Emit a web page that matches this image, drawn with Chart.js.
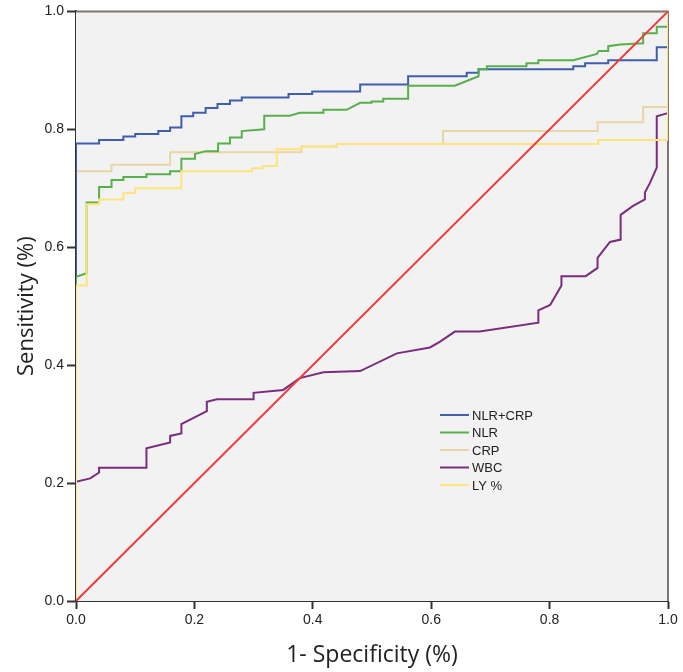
<!DOCTYPE html>
<html>
<head>
<meta charset="utf-8">
<script src="https://cdn.jsdelivr.net/npm/chart.js@4.4.0/dist/chart.umd.min.js"></script>
<style>
  body { margin: 0; background: #fff; }
  #wrap { width: 683px; height: 672px; }
</style>
</head>
<body>
<div id="wrap"><canvas id="roc"></canvas></div>
<script>
// ROC curves (1 - specificity, sensitivity)
const nlrCrpX = [0, 0, .039, .039, .080, .080, .100, .100, .139, .139, .159, .159, .178, .178, .198, .198, .219, .219, .239, .239, .260, .260, .280, .280, .359, .359, .399, .399, .480, .480, .561, .561, .660, .660, .680, .680, .840, .840, .860, .860, .899, .899, .981, .981, 1, 1]
const nlrCrpY = [0, .776, .776, .782, .782, .788, .788, .792, .792, .797, .797, .803, .803, .822, .822, .828, .828, .836, .836, .843, .843, .849, .849, .854, .854, .860, .860, .864, .864, .876, .876, .890, .890, .896, .896, .902, .902, .907, .907, .912, .912, .917, .917, .939, .939, 1]

const nlrX = [0, 0, .018, .018, .039, .039, .060, .060, .080, .080, .119, .119, .159, .159, .178, .178, .201, .201, .219, .240, .240, .260, .260, .280, .280, .318, .318, .361, .378, .418, .418, .457, .480, .499, .499, .519, .519, .561, .561, .640, .680, .680, .694, .694, .761, .761, .781, .781, .840, .880, .883, .899, .899, .919, .958, .958, .981, .981, 1, 1]
const nlrY = [0, .550, .556, .676, .676, .702, .702, .714, .714, .719, .719, .724, .724, .729, .729, .750, .750, .758, .763, .763, .776, .776, .786, .786, .797, .800, .823, .823, .828, .828, .833, .833, .845, .845, .847, .847, .852, .852, .874, .874, .890, .902, .902, .907, .907, .912, .912, .917, .917, .928, .933, .933, .941, .944, .946, .963, .963, .974, .974, 1]

const crpX = [0, 0, .060, .060, .159, .159, .381, .381, .440, .440, .620, .620, .881, .881, .958, .958, 1, 1]
const crpY = [0, .729, .729, .740, .740, .761, .761, .771, .771, .775, .775, .797, .797, .812, .812, .838, .838, 1]

const wbcX = [0, 0, .024, .039, .039, .119, .119, .159, .159, .178, .178, .221, .221, .238, .300, .300, .350, .378, .418, .480, .542, .598, .615, .640, .682, .781, .781, .801, .820, .820, .861, .881, .881, .902, .920, .920, .941, .961, .961, .970, .981, .981, .998, 1, 1]
const wbcY = [0, .202, .208, .218, .226, .226, .259, .269, .280, .284, .300, .322, .338, .342, .342, .353, .358, .378, .388, .390, .420, .430, .440, .457, .457, .472, .493, .502, .535, .551, .551, .565, .582, .609, .613, .655, .670, .681, .693, .710, .735, .822, .827, .827, 1]

const lyX = [0, 0, .018, .018, .039, .039, .080, .080, .100, .100, .178, .178, .297, .297, .316, .316, .339, .339, .381, .381, .440, .440, .882, .882, 1, 1]
const lyY = [0, .535, .535, .673, .673, .681, .681, .692, .692, .700, .700, .729, .729, .734, .734, .738, .738, .766, .766, .771, .771, .775, .775, .782, .782, 1]

const refX = [0, 1]
const refY = [0, 1]

const xTicks = [0, 0.2, 0.4, 0.6, 0.8, 1.0]
const yTicks = [0, 0.2, 0.4, 0.6, 0.8, 1.0]

function toPoints(xs, ys) {
  return xs.map((x, i) => ({ x: x, y: ys[i] }))
}

function lineSet(label, xs, ys, color, order) {
  return {
    label: label,
    data: toPoints(xs, ys),
    borderColor: color,
    borderWidth: 2,
    pointRadius: 0,
    tension: 0,
    fill: false,
    order: order
  }
}

const datasets = [
  lineSet("NLR+CRP", nlrCrpX, nlrCrpY, "#3f5fae", 4),
  lineSet("NLR", nlrX, nlrY, "#57b04b", 3),
  lineSet("CRP", crpX, crpY, "#e9d6a6", 5),
  lineSet("WBC", wbcX, wbcY, "#7b2c7e", 2),
  lineSet("LY %", lyX, lyY, "#fde47c", 1),
  lineSet("", refX, refY, "#ee3b3b", 0)
]

// plot background and frame
const framePlugin = {
  id: "frame",
  beforeDatasetsDraw(chart) {
    const { ctx, chartArea: a } = chart
    ctx.save()
    ctx.fillStyle = "#f3f2f2"
    ctx.fillRect(a.left, a.top, a.right - a.left, a.bottom - a.top)
    ctx.strokeStyle = "#80766e"
    ctx.lineWidth = 2
    ctx.beginPath()
    ctx.moveTo(a.left, a.top)
    ctx.lineTo(a.right, a.top)
    ctx.lineTo(a.right, a.bottom)
    ctx.stroke()
    ctx.restore()
  }
}

// legend inside the plot, lower right
const legendPlugin = {
  id: "innerLegend",
  afterDraw(chart) {
    const ctx = chart.ctx
    const items = chart.data.datasets.filter(d => d.label)
    ctx.save()
    ctx.font = "13px 'Liberation Sans', Arial, sans-serif"
    ctx.textBaseline = "middle"
    ctx.fillStyle = "#222"
    items.forEach((d, i) => {
      const y = 415 + i * 17.5
      ctx.strokeStyle = d.borderColor
      ctx.lineWidth = 2
      ctx.beginPath()
      ctx.moveTo(440, y)
      ctx.lineTo(469, y)
      ctx.stroke()
      ctx.fillText(d.label, 472, y + 1)
    })
    ctx.restore()
  }
}

const tickFont = { family: "'Liberation Sans', Arial, sans-serif", size: 14 }

new Chart(document.getElementById("roc"), {
  type: "line",
  data: { datasets: datasets },
  options: {
    responsive: true,
    maintainAspectRatio: false,
    animation: false,
    layout: { padding: { top: 8, right: 15, left: 0, bottom: 0 } },
    plugins: {
      legend: { display: false },
      tooltip: { enabled: false }
    },
    scales: {
      x: {
        type: "linear",
        min: 0,
        max: 1,
        afterBuildTicks: s => { s.ticks = xTicks.map(v => ({ value: v })) },
        afterFit: s => { s.height = 71 },
        ticks: { font: tickFont, color: "#222", padding: 3, maxRotation: 0, callback: v => v.toFixed(1) },
        grid: { drawOnChartArea: false, tickLength: 8, tickWidth: 2, color: "#333" },
        border: { color: "#333", width: 2 },
        title: { display: true, text: "1- Specificity (%)", font: { family: "'Open Sans', sans-serif", size: 23 }, color: "#222", padding: 3 }
      },
      y: {
        type: "linear",
        min: 0,
        max: 1,
        afterBuildTicks: s => { s.ticks = yTicks.map(v => ({ value: v })) },
        afterFit: s => { s.width = 76 },
        ticks: { font: tickFont, color: "#222", padding: 3, callback: v => v.toFixed(1) },
        grid: { drawOnChartArea: false, tickLength: 9, tickWidth: 2, color: "#333" },
        border: { color: "#333", width: 2 },
        title: { display: true, text: "Sensitivity (%)", font: { family: "'Open Sans', sans-serif", size: 22 }, color: "#222", padding: 14 }
      }
    }
  },
  plugins: [framePlugin, legendPlugin]
})
</script>
</body>
</html>
